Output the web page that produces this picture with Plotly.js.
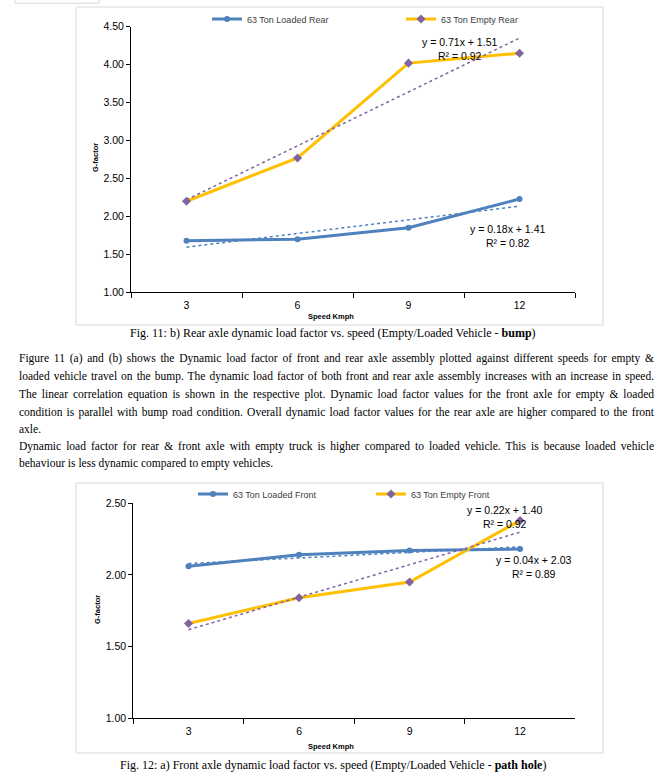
<!DOCTYPE html>
<html><head><meta charset="utf-8">
<script src="https://cdn.plot.ly/plotly-3.0.1.min.js"></script>
<style>html,body{margin:0;padding:0;background:#fff}</style>
</head><body><div id="chart" style="width:670px;height:778px"></div>
<script>
// ---- data ----
const speeds = ['3', '6', '9', '12'];
const loadedRear = [1.68, 1.70, 1.85, 2.23];
const emptyRear = [2.20, 2.77, 4.02, 4.15];
const loadedFront = [2.06, 2.14, 2.17, 2.18];
const emptyFront = [1.66, 1.84, 1.95, 2.38];
const seriesNames = ['63 Ton Loaded Rear', '63 Ton Empty Rear', '63 Ton Loaded Front', '63 Ton Empty Front'];
const equations = ['y = 0.18x + 1.41<br>R² = 0.82', 'y = 0.71x + 1.51<br>R² = 0.92', 'y = 0.04x + 2.03<br>R² = 0.89', 'y = 0.22x + 1.40<br>R² = 0.92'];
const captions = [
  'Fig. 11: b) Rear axle dynamic load factor vs. speed (Empty/Loaded Vehicle - <b>bump</b>)',
  'Fig. 12: a) Front axle dynamic load factor vs. speed (Empty/Loaded Vehicle - <b>path hole</b>)'
];
const paragraph = [
  'Figure 11 (a) and (b) shows the Dynamic load factor of front and rear axle assembly plotted against different speeds for empty &amp;',
  'loaded vehicle travel on the bump. The dynamic load factor of both front and rear axle assembly increases with an increase in speed.',
  'The linear correlation equation is shown in the respective plot. Dynamic load factor values for the front axle for empty &amp; loaded',
  'condition is parallel with bump road condition. Overall dynamic load factor values for the rear axle are higher compared to the front',
  'axle.',
  'Dynamic load factor for rear &amp; front axle with empty truck is higher compared to loaded vehicle. This is because loaded vehicle',
  'behaviour is less dynamic compared to empty vehicles.'
];
const justified = [true, true, true, true, false, true, false];

// ---- helpers ----
const W = 670, H = 778;
const px = x => x / W;
const py = y => 1 - y / H;
function trend(vals) {
  const n = vals.length;
  const xs = vals.map((_, i) => i + 1);
  const mx = xs.reduce((a, b) => a + b) / n, my = vals.reduce((a, b) => a + b) / n;
  let sxy = 0, sxx = 0;
  xs.forEach((x, i) => { sxy += (x - mx) * (vals[i] - my); sxx += (x - mx) * (x - mx); });
  const m = sxy / sxx, b = my - m * mx;
  return xs.map(x => m * x + b);
}
const BLUE = '#4F81BD', YEL = '#FFC000', PUR = '#8064A2';
const FONT = 'Liberation Sans, Arial, sans-serif';
const SERIF = 'Liberation Serif, Times New Roman, serif';

function dataTrace(y, name, ax, leg, isEmpty) {
  return {
    type: 'scatter', mode: 'lines+markers', x: speeds, y: y, name: name,
    xaxis: 'x' + ax, yaxis: 'y' + ax, legend: leg,
    line: { color: isEmpty ? YEL : BLUE, width: 3 },
    marker: isEmpty ? { symbol: 'diamond', size: 7, color: PUR } : { symbol: 'circle', size: 6, color: BLUE }
  };
}
function trendTrace(y, ax, isEmpty) {
  return {
    type: 'scatter', mode: 'lines', x: speeds, y: trend(y), showlegend: false, hoverinfo: 'skip',
    xaxis: 'x' + ax, yaxis: 'y' + ax,
    line: { color: isEmpty ? PUR : BLUE, width: 1.5, dash: 'dot' }
  };
}

const traces = [
  dataTrace(loadedRear, seriesNames[0], '', 'legend', false),
  dataTrace(emptyRear, seriesNames[1], '', 'legend2', true),
  dataTrace(loadedFront, seriesNames[2], '2', 'legend3', false),
  dataTrace(emptyFront, seriesNames[3], '2', 'legend4', true),
  trendTrace(loadedRear, '', false),
  trendTrace(emptyRear, '', true),
  trendTrace(loadedFront, '2', false),
  trendTrace(emptyFront, '2', true)
];

const xaxisBase = {
  type: 'category', range: [-0.5, 3.5], tickson: 'boundaries', ticks: 'outside', ticklen: 5,
  ticklabelstandoff: 3,
  tickcolor: '#000', showline: true, linecolor: '#000', linewidth: 1, showgrid: false, zeroline: false,
  tickfont: { family: FONT, size: 10.5, color: '#000' }, fixedrange: true
};
const yaxisBase = {
  ticks: 'outside', ticklen: 4, tickcolor: '#000', showline: true, linecolor: '#000', linewidth: 1,
  showgrid: false, zeroline: false, tickformat: '.2f', dtick: 0.5,
  tickfont: { family: FONT, size: 10.5, color: '#000' }, fixedrange: true
};

function legendAt(xp, yp) {
  return {
    x: px(xp), y: py(yp), xanchor: 'left', yanchor: 'middle', orientation: 'h',
    bgcolor: 'rgba(0,0,0,0)', borderwidth: 0, itemwidth: 30,
    font: { family: FONT, size: 9, color: '#404040' }
  };
}

const ann = [];
function addText(text, x, y, opts) {
  ann.push(Object.assign({ text: text, x: px(x), y: py(y), xref: 'paper', yref: 'paper', showarrow: false,
    xanchor: 'center', yanchor: 'middle',
    font: { family: FONT, size: 10.5, color: '#000' } }, opts || {}));
}
// equations
addText(equations[0], 507, 236, { align: 'center' });
addText(equations[1], 459, 49, { align: 'center' });
addText(equations[2], 533, 567, { align: 'center' });
addText(equations[3], 504, 517, { align: 'center' });
// axis titles
const titleFont = { family: FONT, size: 7.5, color: '#000' };
addText('<b>G-factor</b>', 95, 158, { textangle: -90, font: titleFont });
addText('<b>Speed Kmph</b>', 331, 316, { font: titleFont });
addText('<b>G-factor</b>', 97, 610, { textangle: -90, font: titleFont });
addText('<b>Speed Kmph</b>', 331, 746, { font: titleFont });
// captions
addText(captions[0], 333, 333, { font: { family: SERIF, size: 12, color: '#000' } });
addText(captions[1], 333, 765, { font: { family: SERIF, size: 12, color: '#000' } });
// paragraph
const paraStart = ann.length;
const lineY = [358, 376, 394, 412, 429, 446, 463];
paragraph.forEach((t, i) => addText(t, 17, lineY[i], { xanchor: 'left', align: 'left',
  font: { family: SERIF, size: 11.5, color: '#000' } }));

const boxLine = { color: '#D9D9D9', width: 1 };
const shapes = [
  { type: 'rect', xref: 'paper', yref: 'paper', x0: px(76), x1: px(603), y0: py(7), y1: py(325), line: boxLine },
  { type: 'rect', xref: 'paper', yref: 'paper', x0: px(76), x1: px(603), y0: py(483), y1: py(753), line: boxLine },
  { type: 'rect', xref: 'paper', yref: 'paper', x0: px(15), x1: px(99), y0: py(-3), y1: py(3.3), line: boxLine }
];

const layout = {
  width: W, height: H, margin: { l: 0, r: 0, t: 0, b: 0 },
  paper_bgcolor: '#fff', plot_bgcolor: 'rgba(0,0,0,0)',
  xaxis: Object.assign({}, xaxisBase, { domain: [px(131), px(575)], anchor: 'y' }),
  yaxis: Object.assign({}, yaxisBase, { domain: [py(292.3), py(26.7)], range: [1, 4.5], anchor: 'x' }),
  xaxis2: Object.assign({}, xaxisBase, { domain: [px(133.3), px(575.3)], anchor: 'y2' }),
  yaxis2: Object.assign({}, yaxisBase, { domain: [py(718), py(503.3)], range: [1, 2.5], anchor: 'x2' }),
  legend: legendAt(207, 19),
  legend2: legendAt(401, 19),
  legend3: legendAt(193, 494),
  legend4: legendAt(371, 494),
  annotations: ann,
  shapes: shapes,
  hovermode: false
};

Plotly.newPlot('chart', traces, layout, { staticPlot: true, displayModeBar: false }).then(() => {
  // justify paragraph lines like the source document
  const groups = document.querySelectorAll('#chart .annotation');
  groups.forEach(g => {
    const idx = +g.getAttribute('data-index');
    const k = idx - paraStart;
    if (k < 0 || k >= paragraph.length || !justified[k]) return;
    const t = g.querySelector('text.annotation-text');
    if (!t) return;
    const target = 652 - 17;
    const natural = t.getComputedTextLength();
    const spaces = (t.textContent.match(/ /g) || []).length;
    if (spaces > 0 && natural < target) {
      t.style.wordSpacing = ((target - natural) / spaces).toFixed(3) + 'px';
    }
  });
});
</script></body></html>
